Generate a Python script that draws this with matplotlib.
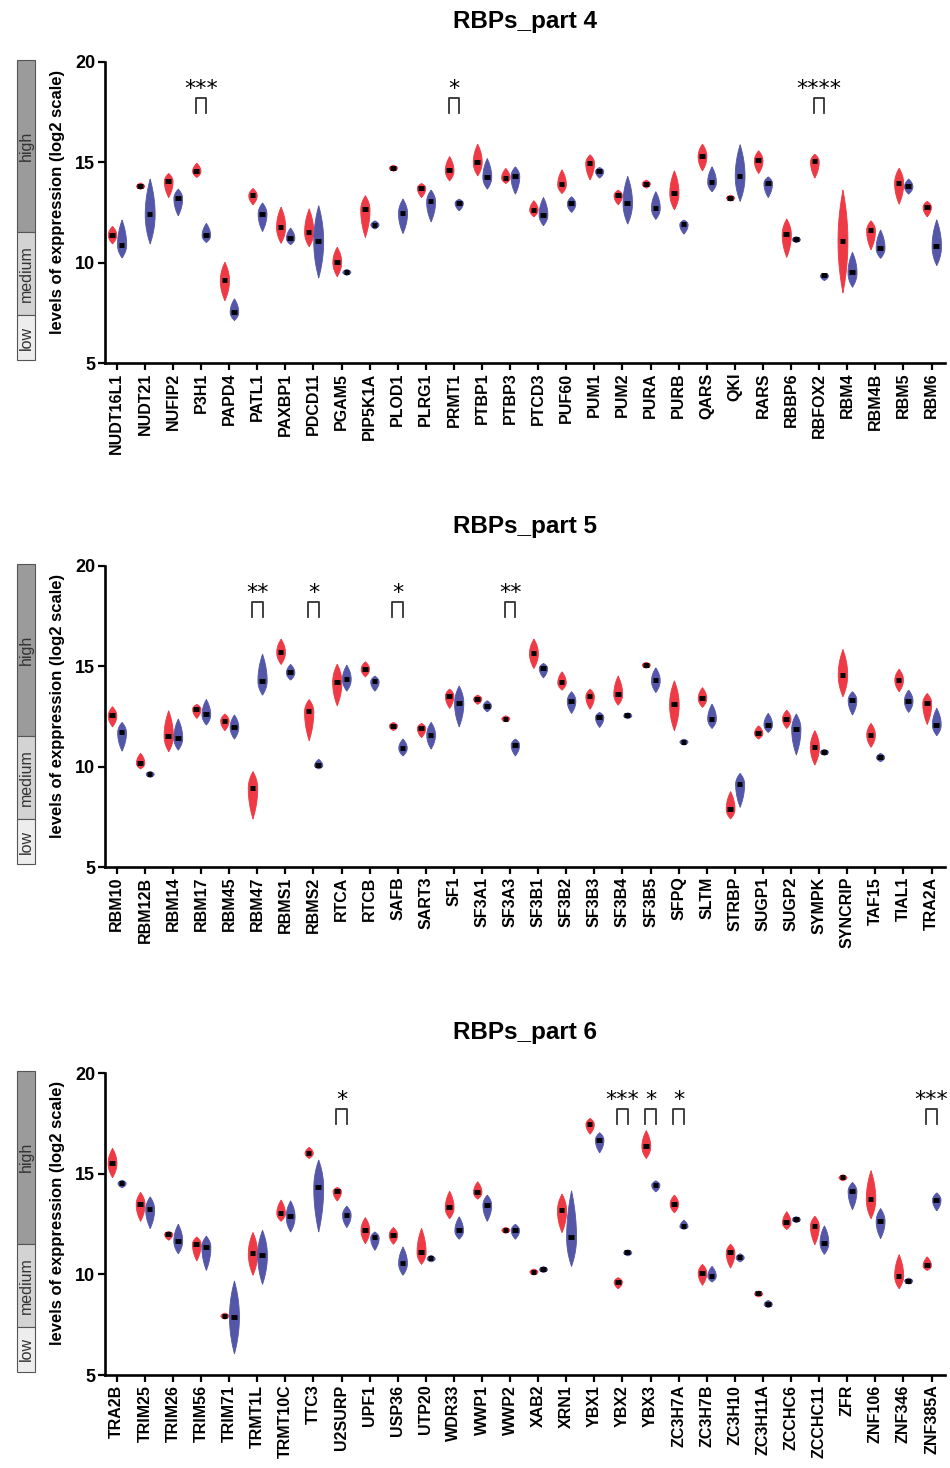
import numpy as np
import matplotlib
matplotlib.use("Agg")
import matplotlib.pyplot as plt
from matplotlib.patches import Rectangle

plt.rcParams['font.family'] = ['Liberation Sans', 'DejaVu Sans']

RED = '#EE3A45'
BLUE = '#5457A8'

# --- panel 4 ---
genes4 = ['NUDT16L1', 'NUDT21', 'NUFIP2', 'P3H1', 'PAPD4', 'PATL1', 'PAXBP1', 'PDCD11', 'PGAM5',
          'PIP5K1A', 'PLOD1', 'PLRG1', 'PRMT1', 'PTBP1', 'PTBP3', 'PTCD3', 'PUF60', 'PUM1', 'PUM2',
          'PURA', 'PURB', 'QARS', 'QKI', 'RARS', 'RBBP6', 'RBFOX2', 'RBM4', 'RBM4B', 'RBM5', 'RBM6']
# (low, median, high)
red4 = [(10.96, 11.4, 11.83), (13.68, 13.82, 14.0), (13.27, 14.07, 14.47), (14.27, 14.57, 14.98),
        (8.13, 9.13, 10.04), (12.91, 13.36, 13.72), (10.99, 11.78, 12.79), (10.82, 11.53, 12.7),
        (9.33, 10.04, 10.79), (11.28, 12.66, 13.36), (14.62, 14.73, 14.82), (13.27, 13.74, 13.97),
        (14.1, 14.6, 15.31), (14.35, 15.02, 15.93), (13.97, 14.24, 14.72), (12.31, 12.64, 13.11),
        (13.47, 13.9, 14.65), (14.15, 14.98, 15.4), (12.91, 13.36, 13.64), (13.74, 13.94, 14.14),
        (12.66, 13.47, 14.6), (14.6, 15.31, 15.93), (13.16, 13.24, 13.33), (14.47, 15.1, 15.6),
        (10.29, 11.42, 12.2), (14.24, 15.05, 15.43), (8.52, 11.08, 13.64), (10.67, 11.62, 12.11),
        (12.94, 13.97, 14.73), (12.31, 12.79, 13.08)]
blue4 = [(10.26, 10.9, 12.15), (10.96, 12.41, 14.19), (12.36, 13.22, 13.69), (11.03, 11.37, 11.98),
         (7.14, 7.55, 8.22), (11.58, 12.45, 13.0), (10.92, 11.23, 11.75), (9.26, 11.08, 12.86),
         (9.48, 9.54, 9.6), (11.7, 11.9, 12.11), (11.48, 12.48, 13.19), (12.06, 13.06, 13.64),
         (12.61, 12.99, 13.19), (13.69, 14.27, 15.21), (13.44, 14.32, 14.8), (11.87, 12.4, 13.27),
         (12.53, 12.95, 13.31), (14.24, 14.57, 14.77), (11.95, 12.98, 14.32), (12.18, 12.73, 13.56),
         (11.45, 11.92, 12.15), (13.56, 14.02, 14.8), (13.08, 14.32, 15.9), (13.27, 13.97, 14.3),
         (11.03, 11.17, 11.28), (9.13, 9.38, 9.49), (8.8, 9.51, 10.54), (10.24, 10.74, 11.65),
         (13.44, 13.81, 14.19), (9.88, 10.82, 12.16)]
sig4 = {'P3H1': '***', 'PRMT1': '*', 'RBFOX2': '****'}

# --- panel 5 ---
genes5 = ['RBM10', 'RBM12B', 'RBM14', 'RBM17', 'RBM45', 'RBM47', 'RBMS1', 'RBMS2', 'RTCA', 'RTCB',
          'SAFB', 'SART3', 'SF1', 'SF3A1', 'SF3A3', 'SF3B1', 'SF3B2', 'SF3B3', 'SF3B4', 'SF3B5',
          'SFPQ', 'SLTM', 'STRBP', 'SUGP1', 'SUGP2', 'SYMPK', 'SYNCRIP', 'TAF15', 'TIAL1', 'TRA2A']
red5 = [(12.01, 12.55, 13.01), (9.91, 10.19, 10.69), (10.77, 11.55, 12.81), (12.43, 12.89, 13.13),
        (11.82, 12.3, 12.65), (7.42, 8.95, 9.78), (15.12, 15.71, 16.38), (11.32, 12.76, 13.37),
        (13.06, 14.22, 15.13), (14.5, 14.88, 15.25), (11.82, 12.05, 12.23), (11.47, 11.93, 12.18),
        (12.93, 13.54, 13.89), (13.13, 13.39, 13.59), (12.26, 12.4, 12.56), (14.92, 15.66, 16.38),
        (13.84, 14.2, 14.75), (12.89, 13.51, 13.89), (13.09, 13.62, 14.54), (14.88, 15.08, 15.17),
        (11.82, 13.1, 14.3), (12.98, 13.42, 13.96), (7.42, 7.9, 8.78), (11.4, 11.68, 12.06),
        (11.93, 12.4, 12.84), (10.11, 10.99, 11.82), (13.51, 14.59, 15.86), (10.99, 11.6, 12.18),
        (13.76, 14.34, 14.88), (12.13, 13.18, 13.67)]
blue5 = [(10.8, 11.72, 12.23), (9.56, 9.64, 9.74), (10.85, 11.43, 12.4), (12.1, 12.6, 13.37),
         (11.4, 11.98, 12.6), (13.59, 14.29, 15.63), (14.34, 14.7, 15.12), (9.91, 10.07, 10.39),
         (13.79, 14.37, 15.08), (13.79, 14.25, 14.54), (10.56, 10.94, 11.4), (10.9, 11.6, 12.23),
         (12.01, 13.18, 14.04), (12.76, 13.04, 13.31), (10.56, 11.1, 11.4), (14.45, 14.92, 15.17),
         (12.68, 13.29, 13.76), (11.98, 12.48, 12.73), (12.46, 12.56, 12.65), (13.72, 14.3, 14.95),
         (11.15, 11.25, 11.35), (11.93, 12.4, 13.14), (8.0, 9.15, 9.69), (11.73, 12.1, 12.68),
         (10.61, 11.9, 12.65), (10.61, 10.74, 10.9), (12.6, 13.34, 13.76), (10.27, 10.47, 10.69),
         (12.73, 13.29, 13.84), (11.57, 12.1, 12.93)]
sig5 = {'RBM47': '**', 'RBMS2': '*', 'SAFB': '*', 'SF3A3': '**'}

# --- panel 6 ---
genes6 = ['TRA2B', 'TRIM25', 'TRIM26', 'TRIM56', 'TRIM71', 'TRMT1L', 'TRMT10C', 'TTC3', 'U2SURP',
          'UPF1', 'USP36', 'UTP20', 'WDR33', 'WWP1', 'WWP2', 'XAB2', 'XRN1', 'YBX1', 'YBX2', 'YBX3',
          'ZC3H7A', 'ZC3H7B', 'ZC3H10', 'ZC3H11A', 'ZCCHC6', 'ZCCHC11', 'ZFR', 'ZNF106', 'ZNF346',
          'ZNF385A']
red6 = [(14.83, 15.53, 16.28), (12.66, 13.49, 14.09), (11.72, 12.01, 12.16), (10.69, 11.52, 11.88),
        (7.82, 7.95, 8.07), (9.98, 11.05, 12.1), (12.66, 13.04, 13.71), (15.78, 16.03, 16.33),
        (13.67, 14.15, 14.34), (11.55, 12.21, 12.84), (11.52, 11.97, 12.35), (10.52, 11.1, 12.3),
        (12.79, 13.32, 14.15), (13.76, 14.09, 14.62), (12.1, 12.21, 12.3), (9.98, 10.14, 10.26),
        (12.1, 13.18, 14.01), (16.99, 17.47, 17.77), (9.31, 9.64, 9.86), (15.78, 16.36, 17.16),
        (13.08, 13.51, 13.96), (9.48, 10.09, 10.52), (10.34, 11.09, 11.52), (8.98, 9.05, 9.11),
        (12.25, 12.58, 13.13), (11.5, 12.41, 12.91), (14.67, 14.82, 14.9), (12.79, 13.74, 15.17),
        (9.31, 9.94, 11.0), (10.22, 10.44, 10.89)]
blue6 = [(14.32, 14.54, 14.7), (12.3, 13.24, 13.87), (11.05, 11.67, 12.51), (10.22, 11.38, 11.92),
         (6.08, 7.9, 9.69), (9.53, 10.97, 12.21), (12.13, 12.88, 13.67), (12.13, 14.32, 15.7),
         (12.35, 12.96, 13.41), (11.22, 11.83, 12.13), (9.98, 10.56, 11.38), (10.64, 10.79, 10.97),
         (11.77, 12.18, 12.88), (12.66, 13.46, 13.96), (11.77, 12.21, 12.51), (10.11, 10.26, 10.39),
         (10.42, 11.83, 14.17), (16.06, 16.69, 17.06), (11.04, 11.09, 11.14), (14.12, 14.45, 14.67),
         (12.26, 12.38, 12.71), (9.64, 9.93, 10.42), (10.64, 10.85, 11.05), (8.37, 8.53, 8.73),
         (12.68, 12.74, 12.79), (11.02, 11.58, 12.43), (13.24, 14.15, 14.59), (11.8, 12.66, 13.29),
         (9.56, 9.69, 9.81), (13.18, 13.71, 14.07)]
sig6 = {'U2SURP': '*', 'YBX2': '***', 'YBX3': '*', 'ZC3H7A': '*', 'ZNF385A': '***'}

panels = [('RBPs_part 4', genes4, red4, blue4, sig4),
          ('RBPs_part 5', genes5, red5, blue5, sig5),
          ('RBPs_part 6', genes6, red6, blue6, sig6)]

W, H = 950, 1468
fig = plt.figure(figsize=(W / 100, H / 100), dpi=100)

# pixel positions of the y=20 and y=5 lines for each panel
rows = [(62, 363), (566, 867), (1073, 1375)]
left_px, right_px = 105, 945


def violin(ax, x, lo, med, hi, color):
    if hi - lo < 0.3:
        lo, hi = med - 0.15, med + 0.15
    wmax = 0.14 + 0.012 * min(hi - lo, 3)
    ys = np.linspace(lo, hi, 80)
    t = np.where(ys < med, (med - ys) / max(med - lo, 1e-3), (ys - med) / max(hi - med, 1e-3))
    w = wmax * np.clip(1 - t ** 2, 0, 1) ** 1.0
    ax.fill_betweenx(ys, x - w, x + w, color=color, lw=0.6, edgecolor=color, zorder=2)
    ax.hlines(med, x - 0.1, x + 0.1, color='black', lw=3.5, zorder=3)


for (title, genes, red, blue, sig), (ytop, ybot) in zip(panels, rows):
    ax = fig.add_axes([left_px / W, 1 - ybot / H, (right_px - left_px) / W, (ybot - ytop) / H])
    n = len(genes)
    pos = np.arange(n)
    for i in range(n):
        violin(ax, pos[i] - 0.17, *red[i], RED)
        violin(ax, pos[i] + 0.17, *blue[i], BLUE)
    for g, stars in sig.items():
        i = genes.index(g)
        ax.plot([i - 0.19, i - 0.19, i + 0.19, i + 0.19], [17.45, 18.2, 18.2, 17.45],
                color='#333333', lw=1.3, clip_on=False)
        ax.text(i, 18.65, stars, ha='center', va='center', fontsize=16, clip_on=False,
                family='DejaVu Sans')

    ax.set_xlim(-0.42, 29.48)
    ax.set_ylim(5, 20)
    ax.set_yticks([5, 10, 15, 20])
    ax.set_yticklabels(['5', '10', '15', '20'], fontsize=13, fontweight='bold')
    ax.set_xticks(pos)
    ax.set_xticklabels(genes, rotation=90, fontsize=11.5, fontweight='bold')
    for s in ['top', 'right']:
        ax.spines[s].set_visible(False)
    for s in ['left', 'bottom']:
        ax.spines[s].set_linewidth(1.9)
    ax.tick_params(axis='both', width=1.6, length=5, direction='out', pad=2)

    ax.text(0.5, 1 + 40 / 301, title, transform=ax.transAxes, ha='center', va='center',
            fontsize=17.5, fontweight='bold')
    ax.text(-0.057, 0.535, 'levels of exppression (log2 scale)', transform=ax.transAxes,
            rotation=90, ha='center', va='center', fontsize=12, fontweight='bold')

    # expression level key
    bx0, bx1 = (17 - left_px) / 840, (35 - left_px) / 840
    bands = [(1 + 2 / 301, 1 - 170 / 301, '#9B9B9B', 'high'),
             (1 - 170 / 301, 1 - 253 / 301, '#D3D3D3', 'medium'),
             (1 - 253 / 301, 1 - 298 / 301, '#EDEDED', 'low')]
    for top, bot, col, lab in bands:
        ax.add_patch(Rectangle((bx0, bot), bx1 - bx0, top - bot, transform=ax.transAxes,
                               facecolor=col, edgecolor='#555555', lw=0.8, clip_on=False))
        ax.text((bx0 + bx1) / 2, (top + bot) / 2, lab, transform=ax.transAxes, rotation=90,
                ha='center', va='center', fontsize=11.5, color='#333333')

fig.savefig('out.png', dpi=100)
